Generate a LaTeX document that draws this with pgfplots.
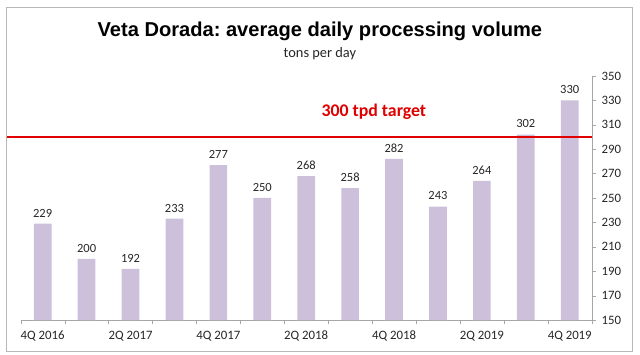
\documentclass[border=0pt]{standalone}
\usepackage{fontspec}
\setmainfont{Carlito}
\newfontfamily\titlefont{Liberation Sans}
\usepackage{pgfplots}
\pgfplotsset{compat=1.18}
\definecolor{barc}{HTML}{CCC0DA}
\definecolor{axc}{HTML}{A6A6A6}
\definecolor{tred}{HTML}{E00000}
\definecolor{txt}{HTML}{262626}
\frenchspacing
\begin{document}
\begin{tikzpicture}
\path (-20.7bp,-35bp) rectangle (619.3bp,320bp);
\draw[axc!80,line width=0.8bp] (-14bp,-31.7bp) rectangle (612bp,312.7bp);
\begin{axis}[
  scale only axis, width=571bp, height=244bp,
  xmin=-0.5, xmax=12.5, ymin=150, ymax=350,
  axis x line=bottom, axis y line=right,
  axis line style={axc,-},
  xtick={0,2,...,12},
  xticklabels={4Q 2016,2Q 2017,4Q 2017,2Q 2018,4Q 2018,2Q 2019,4Q 2019},
  major x tick style={draw=none},
  minor xtick={-0.5,0.5,...,12.5},
  minor x tick style={axc},
  minor tick length=4bp,
  ytick={150,170,...,350},
  y tick style={axc},
  major tick length=4bp,
  tick align=outside,
  ticklabel style={font=\fontsize{12.8bp}{14bp}\selectfont, text=txt},
  /pgf/number format/assume math mode=true,
  yticklabel style={xshift=2.5bp},
  xticklabel style={yshift=-3.5bp},
  clip=false,
  ybar, bar width=17.7bp,
  nodes near coords,
  every node near coord/.append style={font=\fontsize{12.5bp}{14bp}\selectfont, text=txt, yshift=3bp},
]
\addplot[fill=barc, draw=none] coordinates {
(0,229) (1,200) (2,192) (3,233) (4,277) (5,250) (6,268) (7,258) (8,282) (9,243) (10,264) (11,302) (12,330)};
\addplot[sharp plot, tred, line width=2.6bp, nodes near coords={}] coordinates {(-0.81,300) (12.5,300)};
\node[font=\bfseries\fontsize{17.8bp}{20bp}\selectfont, text=tred] at (axis cs:7.54,320.9) {300 tpd target};
\node[font=\titlefont\bfseries\fontsize{20.1bp}{22bp}\selectfont, text=black] at (rel axis cs:0.524,1.182) {Veta Dorada: average daily processing volume};
\node[font=\fontsize{14.4bp}{16bp}\selectfont, text=txt] at (rel axis cs:0.524,1.090) {tons per day};
\end{axis}
\end{tikzpicture}
\end{document}
